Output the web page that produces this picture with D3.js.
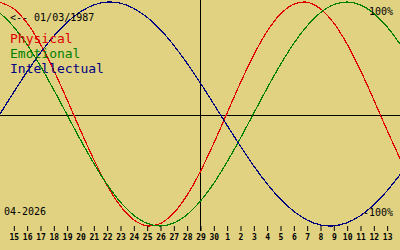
<!DOCTYPE html>
<html>
<head>
<meta charset="utf-8">
<script src="https://cdn.jsdelivr.net/npm/d3@7"></script>
<style>
  body { margin: 0; background: #e1d282; }
  svg { display: block; }
  text { font-family: "DejaVu Sans Mono", monospace; }
</style>
</head>
<body>
<svg width="400" height="250"></svg>
<script>
var width = 400, height = 250

// day labels under the ticks (15 Apr .. 13 May), today = 29
var days = [15,16,17,18,19,20,21,22,23,24,25,26,27,28,29,30,1,2,3,4,5,6,7,8,9,10,11,12,13]
var today = 14 // index of "29"

// curve values read per day, index -1 .. 29 (one extra day at each edge)
var physical = [0.998,0.942,0.817,0.631,0.398,0.136,-0.136,-0.398,-0.631,-0.817,-0.942,-0.998,-0.979,-0.888,-0.731,-0.520,-0.270,
  0,0.270,0.520,0.731,0.888,0.979,0.998,0.942,0.817,0.631,0.398,0.136,-0.136,-0.398]
var emotional = [0.901,0.782,0.624,0.434,0.223,0,-0.223,-0.434,-0.624,-0.782,-0.901,-0.975,-1,-0.975,-0.901,-0.782,-0.624,-0.434,-0.223,
  0,0.223,0.434,0.624,0.782,0.901,0.975,1,0.975,0.901,0.782,0.624]
var intellectual = [0,0.189,0.372,0.541,0.690,0.815,0.910,0.972,0.999,0.990,0.945,0.866,0.756,0.618,0.458,0.282,0.095,
  -0.095,-0.282,-0.458,-0.618,-0.756,-0.866,-0.945,-0.990,-0.999,-0.972,-0.910,-0.815,-0.690,-0.541]

var seriesNames = ['Physical', 'Emotional', 'Intellectual']
var seriesColors = ['#e00000', '#008000', '#000080']
var series = [physical, emotional, intellectual]

var birth = '<-- 01/03/1987'
var month = '04-2026'

var svg = d3.select('svg')

var x = d3.scaleLinear().domain([-1, 29]).range([0, width])
var y = d3.scaleLinear().domain([-1, 1]).range([226, 2])

// zero line and "today" line
svg.append('line')
  .attr('x1', 0).attr('x2', width)
  .attr('y1', 115.5).attr('y2', 115.5)
  .attr('stroke', '#000')
svg.append('line')
  .attr('x1', x(today) + 0.5).attr('x2', x(today) + 0.5)
  .attr('y1', 0).attr('y2', 231)
  .attr('stroke', '#000')

var line = d3.line()
  .x(function(d, i) { return x(i - 1) })
  .y(function(d) { return y(d) })
  .curve(d3.curveCatmullRom)

svg.selectAll('path.bio')
  .data(series)
  .join('path')
  .attr('class', 'bio')
  .attr('d', line)
  .attr('fill', 'none')
  .attr('stroke', function(d, i) { return seriesColors[i] })
  .attr('stroke-width', 1.2)
  .attr('shape-rendering', 'crispEdges')

// bottom axis
var axis = d3.axisBottom(x)
  .tickValues(d3.range(days.length))
  .tickFormat(function(i) { return days[i] })
  .tickSize(5)
  .tickPadding(3)

var g = svg.append('g')
  .attr('transform', 'translate(0.5,226)')
  .call(axis)
g.select('.domain').remove()
g.selectAll('line').attr('stroke', '#000')
g.selectAll('text')
  .attr('font-family', '"DejaVu Sans Mono", monospace')
  .attr('font-size', 8)
  .attr('font-weight', 'bold')
  .attr('fill', '#000')

// texts
svg.append('text').attr('x', 10).attr('y', 20.5)
  .attr('font-size', 10).text(birth)
svg.selectAll('text.legend')
  .data(seriesNames)
  .join('text')
  .attr('class', 'legend')
  .attr('x', 10)
  .attr('y', function(d, i) { return 42.5 + i * 15 })
  .attr('font-size', 13)
  .attr('fill', function(d, i) { return seriesColors[i] })
  .text(function(d) { return d })
svg.append('text').attr('x', 393).attr('y', 15)
  .attr('font-size', 10).attr('text-anchor', 'end').text('100%')
svg.append('text').attr('x', 393).attr('y', 216)
  .attr('font-size', 10).attr('text-anchor', 'end').text('-100%')
svg.append('text').attr('x', 4).attr('y', 215)
  .attr('font-size', 10).text(month)
</script>
</body>
</html>
